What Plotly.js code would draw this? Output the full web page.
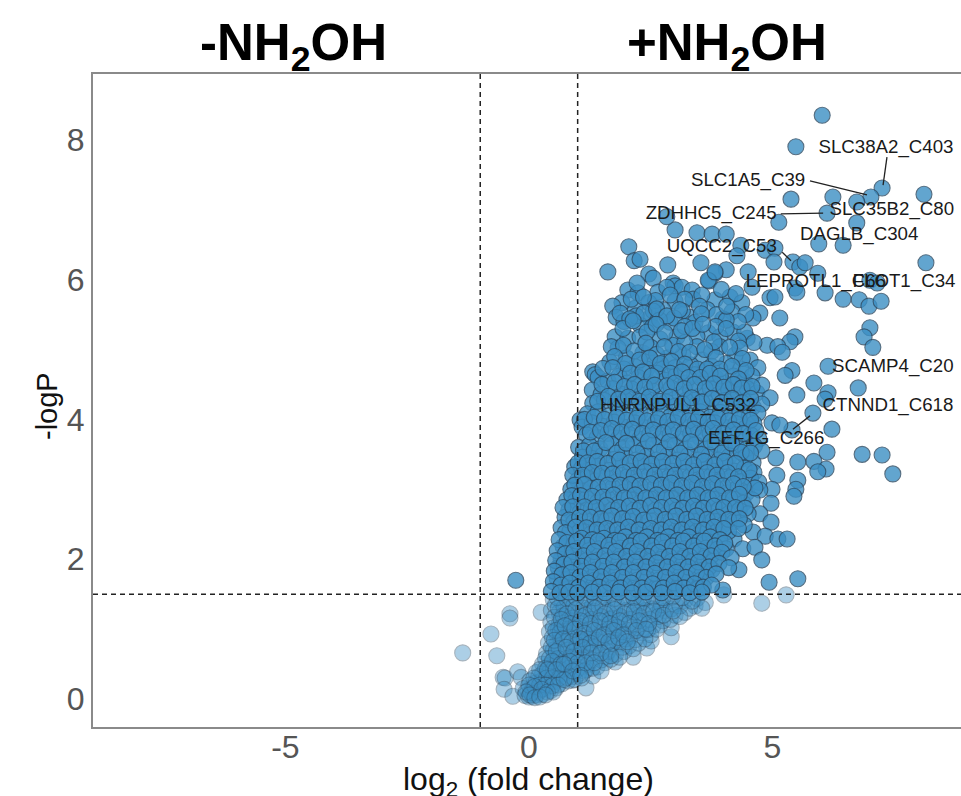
<!DOCTYPE html>
<html><head><meta charset="utf-8">
<script src="https://cdn.plot.ly/plotly-3.0.1.min.js"></script>
<style>html,body{margin:0;padding:0;background:#fff;overflow:hidden}</style>
</head><body><div id="chart" style="width:961px;height:796px"></div>
<script>
const xTicks=[-5,0,5];
const yTicks=[0,2,4,6,8];
const vCuts=[-1,1];
const hCut=1.5;
const sigOutliers=[[6.02,8.35],[5.48,7.9],[7.25,7.31],[7.02,7.18],[6.73,7.11],[6.24,7.18],[8.11,7.22],[5.38,7.15],[6.12,6.95],[6.73,6.81],[5.13,6.82],[3.0,6.71],[2.83,6.9],[3.45,6.67],[3.76,6.65],[4.05,6.65],[5.95,6.51],[6.45,6.49],[4.35,6.49],[4.27,6.34],[4.85,6.42],[5.05,6.45],[5.03,6.25],[8.15,6.24],[3.53,6.24],[2.85,6.21],[4.05,6.14],[3.82,6.09],[4.5,6.11],[5.42,6.25],[5.56,6.18],[5.67,6.24],[5.93,6.09],[3.7,5.98],[4.58,5.89],[4.95,5.74],[5.05,5.75],[5.46,5.88],[5.5,5.82],[6.08,5.81],[6.45,5.72],[6.78,5.71],[6.98,5.62],[7.23,5.69],[7.0,5.99],[7.15,5.95],[5.15,5.45],[7.0,5.31],[6.88,5.18],[7.06,5.03],[5.46,5.18],[5.36,5.11],[4.89,5.06],[5.11,5.04],[5.2,4.96],[5.4,4.7],[5.26,4.63],[6.14,4.76],[5.85,4.52],[6.76,4.45],[6.14,4.38],[6.08,4.29],[5.5,4.35],[5.83,4.09],[6.22,3.86],[5.4,3.85],[4.99,3.95],[5.15,3.92],[6.12,3.53],[6.84,3.5],[7.25,3.49],[7.47,3.22],[5.85,3.4],[6.1,3.29],[5.93,3.25],[5.52,3.39],[5.07,3.45],[5.09,3.2],[5.52,3.13],[5.48,3.0],[5.44,2.9],[4.99,3.0],[4.97,2.8],[4.74,2.65],[4.97,2.53],[4.6,2.39],[4.85,2.33],[5.11,2.29],[5.3,2.29],[4.21,2.29],[4.39,2.15],[4.64,2.17],[4.78,1.99],[4.31,1.85],[4.93,1.67],[5.52,1.72],[3.98,1.56],[-0.27,1.7]];
const sigTop=[[2.05,6.47],[2.16,6.27],[2.28,6.29],[1.62,6.11],[2.46,6.08],[2.55,6.02],[2.03,5.85],[2.24,5.81],[2.22,5.95],[2.65,5.82],[2.96,5.95],[3.0,5.91],[3.14,5.89],[2.83,5.89],[3.35,5.85],[3.68,5.99],[3.82,6.11],[4.13,5.75],[4.37,5.67],[3.82,5.71],[3.37,5.72],[3.0,5.69],[2.46,5.67],[2.18,5.59],[1.91,5.67],[1.72,5.62],[1.79,5.46],[2.75,5.57],[3.66,5.57],[4.17,5.54],[3.98,5.44],[4.74,5.52],[4.6,5.45],[4.48,5.16],[2.9,5.39],[3.31,5.46],[2.48,5.45],[2.28,5.35],[2.53,5.32],[3.41,5.39],[4.19,5.25],[3.68,5.24],[1.77,5.18],[2.03,5.16],[2.28,5.18],[2.69,5.15],[3.04,5.18],[3.45,5.19],[3.92,5.18],[4.43,5.25],[1.83,5.02],[2.34,4.95],[2.85,4.88],[3.16,4.92],[3.45,5.04],[3.92,5.04],[4.23,4.92],[4.54,4.85],[1.66,4.82],[3.55,4.85],[2.59,4.81],[2.18,4.75],[4.7,4.74],[1.31,4.68],[1.36,4.64],[2.0,4.88],[2.5,5.03],[2.95,5.06],[3.2,5.1],[3.75,4.97],[4.05,4.8],[4.35,4.72],[1.95,4.72],[2.42,4.72],[2.75,4.72],[3.0,4.74],[3.32,4.78],[3.75,4.76],[2.6,5.7],[2.9,5.78],[3.2,5.72],[3.55,5.78],[3.95,5.86],[4.25,5.8],[4.45,5.5],[4.3,5.4],[2.1,5.72],[2.35,5.75],[3.15,5.55],[3.85,5.5],[2.55,5.55],[1.95,5.4],[2.2,5.48],[4.62,5.1],[4.3,5.12],[4.05,5.42],[3.5,5.62],[2.98,5.45],[2.68,5.42]];
const sigUpper=[[1.42,4.6],[1.62,4.55],[1.85,4.62],[2.02,4.52],[2.25,4.6],[2.45,4.53],[2.63,4.66],[2.8,4.56],[3.02,4.63],[3.22,4.52],[3.4,4.64],[3.62,4.55],[3.83,4.6],[4.02,4.52],[4.2,4.62],[4.42,4.55],[4.58,4.62],[1.3,4.42],[1.48,4.36],[1.72,4.44],[1.9,4.36],[2.12,4.43],[2.3,4.35],[2.52,4.42],[2.72,4.34],[2.92,4.45],[3.1,4.36],[3.32,4.42],[3.5,4.33],[3.72,4.44],[3.9,4.36],[4.1,4.42],[4.3,4.35],[4.48,4.44],[4.68,4.38],[4.78,4.49],[4.95,4.31],[1.31,4.23],[1.55,4.27],[1.78,4.22],[1.98,4.28],[2.18,4.2],[2.4,4.27],[2.6,4.2],[2.82,4.25],[3.0,4.19],[3.22,4.27],[3.42,4.2],[3.62,4.26],[3.82,4.18],[4.02,4.27],[4.22,4.2],[4.42,4.26],[4.6,4.18],[4.78,4.22],[1.2,4.08],[1.42,4.11],[1.64,4.05],[1.85,4.12],[2.05,4.05],[2.28,4.1],[2.48,4.04],[2.7,4.1],[2.9,4.04],[3.12,4.11],[3.32,4.05],[3.52,4.11],[3.72,4.03],[3.93,4.1],[4.13,4.04],[4.33,4.11],[4.52,4.04],[4.7,4.09],[1.05,3.99],[1.09,3.89],[1.3,3.95],[1.52,3.9],[1.75,3.96],[1.95,3.89],[2.18,3.95],[2.38,3.88],[2.6,3.95],[2.8,3.88],[3.0,3.95],[3.22,3.88],[3.42,3.96],[3.62,3.88],[3.82,3.95],[4.05,3.88],[4.25,3.94],[4.45,3.88],[4.62,3.94],[1.18,3.78],[1.4,3.74],[1.62,3.8],[1.84,3.73],[2.05,3.79],[2.27,3.72],[2.48,3.79],[2.68,3.72],[2.9,3.79],[3.1,3.72],[3.32,3.8],[3.52,3.73],[3.72,3.8],[3.93,3.73],[4.15,3.79],[4.35,3.72],[4.55,3.78],[4.72,3.72],[1.02,3.6],[1.24,3.63],[1.46,3.58],[1.7,3.64],[1.92,3.58],[2.14,3.64],[2.35,3.57],[2.56,3.64],[2.78,3.57],[3.0,3.63],[3.2,3.57],[3.42,3.64],[3.62,3.57],[3.83,3.64],[4.03,3.57],[4.25,3.63],[4.45,3.57],[4.63,3.62],[4.78,3.55],[1.1,3.46],[0.94,3.32],[1.3,3.44],[1.52,3.49],[1.75,3.43],[1.97,3.49],[2.2,3.42],[2.42,3.48],[2.62,3.42],[2.85,3.49],[3.05,3.42],[3.28,3.49],[3.48,3.42],[3.7,3.49],[3.9,3.42],[4.12,3.48],[4.32,3.42],[4.6,3.38],[4.45,3.47]];
const sigMiddle=[[1.08,3.3],[1.22,3.27],[1.42,3.33],[1.65,3.27],[1.86,3.33],[2.08,3.26],[2.3,3.33],[2.52,3.26],[2.72,3.32],[2.95,3.26],[3.15,3.33],[3.38,3.26],[3.58,3.33],[3.8,3.26],[4.0,3.33],[4.22,3.26],[4.42,3.3],[4.62,3.24],[1.0,3.13],[1.18,3.16],[1.36,3.12],[1.58,3.18],[1.8,3.11],[2.02,3.18],[2.22,3.11],[2.44,3.18],[2.65,3.11],[2.87,3.17],[3.08,3.11],[3.3,3.18],[3.5,3.11],[3.72,3.18],[3.92,3.11],[4.14,3.17],[4.35,3.11],[4.55,3.16],[4.72,3.1],[0.86,3.0],[1.08,2.98],[1.28,3.02],[1.5,2.96],[1.72,3.03],[1.94,2.96],[2.15,3.02],[2.36,2.95],[2.58,3.02],[2.8,2.95],[3.0,3.02],[3.22,2.95],[3.42,3.02],[3.64,2.95],[3.84,3.02],[4.06,2.95],[4.27,3.01],[4.47,2.95],[4.74,2.99],[0.78,2.85],[0.96,2.84],[1.18,2.87],[1.4,2.81],[1.62,2.87],[1.84,2.8],[2.05,2.87],[2.27,2.8],[2.48,2.87],[2.7,2.8],[2.92,2.87],[3.13,2.8],[3.34,2.87],[3.55,2.8],[3.76,2.87],[3.98,2.8],[4.2,2.86],[4.4,2.8],[4.58,2.85],[0.82,2.7],[1.05,2.67],[1.28,2.72],[1.5,2.65],[1.72,2.71],[1.95,2.65],[2.16,2.71],[2.38,2.64],[2.6,2.71],[2.82,2.64],[3.03,2.71],[3.25,2.65],[3.46,2.71],[3.68,2.64],[3.9,2.71],[4.1,2.65],[4.32,2.7],[4.5,2.65],[0.74,2.6],[0.92,2.53],[1.16,2.56],[1.38,2.5],[1.6,2.56],[1.83,2.5],[2.05,2.56],[2.27,2.49],[2.48,2.56],[2.7,2.49],[2.92,2.55],[3.14,2.49],[3.35,2.56],[3.56,2.49],[3.78,2.56],[4.0,2.5],[4.22,2.54],[4.42,2.49],[0.66,2.45],[0.84,2.4],[1.05,2.41],[1.27,2.36],[1.5,2.41],[1.72,2.35],[1.94,2.41],[2.16,2.34],[2.38,2.41],[2.6,2.34],[2.82,2.4],[3.04,2.34],[3.25,2.41],[3.46,2.34],[3.68,2.41],[3.9,2.35],[4.1,2.4]];
const sigLower=[[0.62,2.28],[0.78,2.24],[0.98,2.26],[1.2,2.2],[1.42,2.26],[1.64,2.2],[1.86,2.26],[2.08,2.19],[2.3,2.26],[2.52,2.19],[2.74,2.25],[2.95,2.19],[3.17,2.26],[3.38,2.19],[3.6,2.26],[3.82,2.19],[4.02,2.23],[0.58,2.12],[0.75,2.08],[0.92,2.11],[1.12,2.05],[1.34,2.11],[1.56,2.05],[1.78,2.11],[2.0,2.04],[2.22,2.11],[2.44,2.04],[2.66,2.1],[2.88,2.04],[3.1,2.11],[3.3,2.04],[3.52,2.11],[3.74,2.05],[3.96,2.1],[4.15,2.02],[0.55,1.98],[0.72,1.93],[0.88,1.96],[1.08,1.9],[1.3,1.96],[1.52,1.9],[1.74,1.96],[1.96,1.89],[2.18,1.96],[2.4,1.89],[2.62,1.95],[2.84,1.89],[3.06,1.96],[3.27,1.89],[3.48,1.96],[3.7,1.89],[3.9,1.94],[4.1,1.88],[0.52,1.83],[0.68,1.78],[0.86,1.81],[1.05,1.75],[1.26,1.81],[1.48,1.75],[1.7,1.81],[1.92,1.74],[2.14,1.81],[2.36,1.74],[2.58,1.8],[2.8,1.74],[3.02,1.81],[3.22,1.74],[3.44,1.81],[3.64,1.74],[3.84,1.79],[0.5,1.68],[0.66,1.63],[0.84,1.66],[1.02,1.6],[1.22,1.66],[1.44,1.6],[1.66,1.66],[1.88,1.59],[2.1,1.66],[2.32,1.59],[2.54,1.65],[2.76,1.59],[2.98,1.66],[3.18,1.59],[3.4,1.65],[3.58,1.6],[3.75,1.63],[0.46,1.54],[0.64,1.52],[0.82,1.53],[1.0,1.52],[1.3,1.53],[1.56,1.52],[1.84,1.53],[2.12,1.52],[2.4,1.53],[2.72,1.52],[3.0,1.54],[3.3,1.52],[3.55,1.53]];
const sigFillHigh=[[1.87,5.52],[2.07,5.44],[2.36,5.52],[2.62,5.58],[2.83,5.48],[3.09,5.57],[3.2,5.33],[3.54,5.51],[3.84,5.33],[4.06,5.62],[1.93,5.3],[2.14,5.41],[2.42,5.25],[2.61,5.36],[2.79,5.24],[3.13,5.27],[3.36,5.3],[3.57,5.36],[3.8,5.11],[4.05,5.3],[4.33,5.02],[1.69,5.04],[1.94,5.06],[2.16,4.98],[2.4,5.09],[2.62,4.93],[2.78,5.04],[3.07,4.97],[3.3,4.96],[3.61,5.0],[3.84,4.88],[4.12,5.03],[4.38,4.87],[1.76,4.9],[1.98,4.8],[2.27,4.85],[2.48,4.88],[2.7,4.8],[2.93,4.83],[3.2,4.79],[3.46,4.72],[3.66,4.72],[3.92,4.72],[4.17,4.76],[4.46,4.7],[1.52,4.73],[1.72,4.74],[2.08,4.66],[2.34,4.68],[2.52,4.62],[2.9,4.66],[3.14,4.68],[3.28,4.6],[3.52,4.6],[3.72,4.66],[3.93,4.62],[4.3,4.58],[1.5,4.5],[1.76,4.53],[1.96,4.47],[2.17,4.5],[2.38,4.46],[2.58,4.49],[2.83,4.48],[3.0,4.52],[3.19,4.44],[3.4,4.5],[3.62,4.44],[3.8,4.51],[4.0,4.46],[4.2,4.5],[4.37,4.45],[4.58,4.47],[1.41,4.26],[1.63,4.33],[1.84,4.29],[2.04,4.32],[2.27,4.26],[2.47,4.32],[2.68,4.26],[2.9,4.32],[3.15,4.22],[3.34,4.31],[3.55,4.25],[3.76,4.3],[3.96,4.24],[4.17,4.3],[4.37,4.24],[4.55,4.3],[1.14,4.0],[1.34,4.03],[1.55,4.0],[1.8,4.03],[2.0,3.99],[2.22,4.02],[2.42,3.98],[2.66,4.01],[2.85,3.97],[3.06,4.03],[3.28,3.98],[3.48,4.02],[3.68,3.97],[3.88,4.02],[4.1,3.98],[4.32,4.0],[4.55,3.99],[1.26,3.82],[1.47,3.84],[1.7,3.87],[1.9,3.82],[2.12,3.86],[2.33,3.8],[2.55,3.85],[2.76,3.81],[2.96,3.85],[3.17,3.8],[3.38,3.86],[3.58,3.8],[3.78,3.87],[3.99,3.8],[4.2,3.85],[4.4,3.8],[4.66,3.84]];
const sigFillLow=[[1.12,3.55],[1.34,3.55],[1.58,3.67],[1.8,3.52],[2.0,3.66],[2.22,3.52],[2.45,3.69],[2.66,3.53],[2.88,3.68],[3.1,3.52],[3.32,3.68],[3.54,3.5],[3.74,3.68],[3.96,3.52],[4.16,3.66],[4.36,3.53],[4.55,3.52],[1.01,3.38],[1.2,3.38],[1.4,3.4],[1.62,3.37],[1.86,3.42],[2.08,3.38],[2.3,3.4],[2.52,3.36],[2.74,3.4],[2.96,3.37],[3.18,3.4],[3.38,3.35],[3.6,3.4],[3.82,3.35],[4.02,3.4],[4.24,3.37],[4.52,3.28],[0.9,3.2],[1.1,3.2],[1.3,3.24],[1.5,3.23],[1.72,3.22],[1.94,3.24],[2.16,3.2],[2.38,3.25],[2.58,3.2],[2.8,3.24],[3.0,3.2],[3.22,3.24],[3.44,3.2],[3.66,3.24],[3.86,3.2],[4.08,3.24],[4.3,3.18],[4.64,3.02],[0.94,3.06],[1.14,3.07],[1.42,3.03],[1.62,3.06],[1.87,3.06],[2.08,3.07],[2.28,3.05],[2.5,3.08],[2.72,3.06],[2.92,3.09],[3.14,3.05],[3.35,3.09],[3.56,3.04],[3.77,3.08],[3.98,3.05],[4.2,3.08],[4.4,3.04],[0.88,2.91],[1.06,2.91],[1.3,2.9],[1.52,2.89],[1.74,2.92],[1.96,2.88],[2.18,2.92],[2.4,2.88],[2.62,2.92],[2.82,2.88],[3.04,2.92],[3.26,2.88],[3.46,2.92],[3.68,2.88],[3.88,2.92],[4.12,2.88],[4.32,2.93],[0.7,2.74],[0.9,2.75],[1.14,2.75],[1.38,2.74],[1.6,2.77],[1.84,2.74],[2.06,2.76],[2.28,2.73],[2.5,2.77],[2.72,2.74],[2.94,2.76],[3.16,2.73],[3.38,2.76],[3.58,2.73],[3.8,2.76],[4.0,2.74],[4.24,2.74],[4.44,2.73],[0.82,2.56],[1.04,2.6],[1.26,2.6],[1.48,2.58],[1.7,2.62],[1.92,2.58],[2.14,2.61],[2.36,2.56],[2.58,2.62],[2.8,2.57],[3.02,2.62],[3.24,2.57],[3.44,2.62],[3.66,2.57],[3.88,2.6],[4.1,2.57],[4.32,2.58],[0.75,2.38],[0.96,2.46],[1.18,2.45],[1.4,2.42],[1.6,2.44],[1.82,2.42],[2.04,2.46],[2.26,2.42],[2.5,2.44],[2.72,2.42],[2.92,2.46],[3.14,2.42],[3.36,2.46],[3.58,2.42],[3.8,2.46],[4.0,2.44],[4.3,2.44],[0.7,2.18],[0.9,2.2],[1.08,2.3],[1.3,2.28],[1.54,2.3],[1.76,2.27],[1.98,2.32],[2.2,2.27],[2.42,2.32],[2.64,2.27],[2.86,2.32],[3.06,2.27],[3.28,2.32],[3.5,2.26],[3.72,2.32],[3.92,2.28],[0.66,2.0],[0.84,2.02],[1.02,2.16],[1.22,2.12],[1.44,2.15],[1.66,2.13],[1.88,2.16],[2.1,2.12],[2.34,2.15],[2.56,2.12],[2.78,2.16],[2.98,2.12],[3.2,2.15],[3.42,2.12],[3.64,2.16],[3.86,2.14],[4.05,2.15],[0.6,1.88],[0.78,1.86],[0.98,1.99],[1.18,1.98],[1.42,1.99],[1.62,1.98],[1.85,2.0],[2.06,1.97],[2.28,2.0],[2.5,1.97],[2.72,2.0],[2.94,1.97],[3.16,2.01],[3.38,1.98],[3.6,2.01],[3.8,1.98],[0.58,1.72],[0.76,1.72],[0.96,1.85],[1.16,1.84],[1.38,1.85],[1.6,1.86],[1.82,1.85],[2.04,1.86],[2.26,1.84],[2.48,1.87],[2.7,1.84],[2.92,1.87],[3.12,1.84],[3.34,1.87],[3.56,1.84],[3.76,1.85],[0.92,1.7],[1.12,1.7],[1.34,1.7],[1.56,1.71],[1.78,1.7],[2.0,1.72],[2.22,1.7],[2.44,1.72],[2.66,1.7],[2.88,1.72],[3.1,1.7],[3.3,1.72],[3.52,1.7],[0.74,1.58],[0.92,1.58],[1.12,1.57],[1.35,1.58],[1.55,1.58],[1.76,1.58],[1.98,1.6],[2.22,1.57],[2.44,1.59],[2.65,1.58],[2.88,1.59],[3.08,1.58],[3.28,1.6],[3.48,1.58]];
const nsOutliers=[[-1.36,0.66],[-0.78,0.93],[-0.66,0.62],[-0.39,1.22],[-0.39,1.16],[0.25,1.24],[-0.53,0.31],[-0.49,0.3],[-0.23,0.39],[-0.51,0.14],[-0.33,0.04],[-0.16,0.31],[1.17,0.16],[1.31,0.33],[0.9,0.27],[1.77,0.53],[2.14,0.6],[2.42,0.73],[2.51,0.83],[2.92,0.89],[2.92,1.02],[2.69,1.06],[3.41,1.33],[4.0,1.49],[4.78,1.37],[5.28,1.49]];
const nsCore=[[0.5,1.42],[0.68,1.38],[0.85,1.43],[1.05,1.37],[1.25,1.43],[1.42,1.37],[1.62,1.43],[1.8,1.36],[2.02,1.43],[2.2,1.36],[2.4,1.43],[2.6,1.36],[2.8,1.42],[3.0,1.36],[3.2,1.41],[3.45,1.44],[3.62,1.38],[0.46,1.27],[0.62,1.24],[0.8,1.28],[1.0,1.22],[1.2,1.27],[1.4,1.21],[1.6,1.27],[1.8,1.21],[2.0,1.27],[2.2,1.2],[2.4,1.27],[2.6,1.21],[2.8,1.26],[3.0,1.2],[3.2,1.24],[0.45,1.1],[0.62,1.07],[0.78,1.12],[0.96,1.06],[1.15,1.11],[1.35,1.05],[1.55,1.11],[1.75,1.05],[1.95,1.11],[2.15,1.05],[2.35,1.1],[2.55,1.05],[2.75,1.12],[0.42,0.96],[0.58,0.92],[0.75,0.97],[0.92,0.91],[1.1,0.96],[1.3,0.9],[1.5,0.96],[1.7,0.9],[1.9,0.96],[2.1,0.9],[2.3,0.95],[2.5,0.92],[0.4,0.8],[0.56,0.77],[0.72,0.82],[0.9,0.76],[1.08,0.81],[1.26,0.75],[1.46,0.81],[1.66,0.75],[1.86,0.8],[2.05,0.76],[2.25,0.8],[0.36,0.65],[0.52,0.62],[0.68,0.66],[0.85,0.6],[1.02,0.66],[1.2,0.6],[1.4,0.65],[1.58,0.6],[1.78,0.64],[1.95,0.68],[0.28,0.5],[0.42,0.48],[0.58,0.52],[0.74,0.46],[0.9,0.51],[1.06,0.45],[1.22,0.5],[1.4,0.46],[1.56,0.52],[0.15,0.38],[0.28,0.36],[0.42,0.38],[0.56,0.33],[0.72,0.37],[0.88,0.32],[1.02,0.37],[1.18,0.42],[0.02,0.26],[0.14,0.23],[0.26,0.26],[0.4,0.22],[0.54,0.25],[0.68,0.22],[0.8,0.26],[-0.12,0.15],[-0.02,0.12],[0.08,0.15],[0.2,0.11],[0.32,0.15],[0.44,0.12],[0.56,0.16],[-0.08,0.05],[0.0,0.03],[0.08,0.04],[0.16,0.06],[0.28,0.07],[0.04,0.09],[0.6,1.0],[0.85,1.18],[1.3,1.33],[1.7,1.16],[2.25,1.32],[2.7,1.3],[1.0,0.72],[0.65,0.88],[1.52,0.72],[1.25,0.88],[1.85,1.02],[0.5,0.7],[0.34,0.58],[0.2,0.32],[0.62,0.42]];
const nsFillA=[[0.54,1.34],[0.72,1.31],[0.92,1.34],[1.12,1.3],[1.33,1.26],[1.52,1.33],[1.72,1.3],[1.92,1.35],[2.12,1.29],[2.32,1.38],[2.52,1.29],[2.72,1.35],[2.92,1.29],[3.1,1.33],[3.3,1.3],[3.55,1.3],[0.52,1.17],[0.7,1.19],[0.9,1.16],[1.08,1.18],[1.28,1.14],[1.48,1.18],[1.66,1.14],[1.88,1.18],[2.08,1.14],[2.28,1.18],[2.48,1.14],[2.66,1.18],[2.9,1.14],[3.1,1.18],[0.5,1.02],[0.68,1.03],[0.86,1.02],[1.04,1.04],[1.24,1.0],[1.44,1.03],[1.64,1.0],[1.82,1.03],[2.04,0.98],[2.24,1.02],[2.44,0.99],[2.62,1.0],[0.48,0.88],[0.64,0.95],[0.82,0.88],[1.0,0.88],[1.18,0.86],[1.38,0.84],[1.58,0.88],[1.78,0.84],[1.98,0.86],[2.18,0.85],[2.38,0.86],[0.46,0.74],[0.62,0.72],[0.8,0.7],[0.98,0.78],[1.16,0.7],[1.34,0.74],[1.62,0.68],[1.72,0.8],[1.92,0.74],[2.14,0.72],[0.42,0.58],[0.6,0.58],[0.76,0.58],[0.94,0.62],[1.1,0.56],[1.3,0.56],[1.48,0.56],[1.68,0.57],[1.86,0.6],[0.34,0.44],[0.5,0.43],[0.66,0.42],[0.82,0.44],[0.98,0.42],[1.14,0.4],[1.3,0.44],[1.48,0.4],[0.22,0.42],[0.36,0.3],[0.48,0.3],[0.62,0.3],[0.78,0.31],[0.94,0.28],[1.08,0.3],[0.1,0.3],[0.22,0.2],[0.34,0.2],[0.48,0.19],[0.6,0.2],[0.72,0.28],[0.0,0.2],[0.12,0.18],[0.26,0.14],[0.38,0.1],[0.5,0.1],[-0.06,0.1],[0.02,0.06],[0.12,0.02],[0.22,0.03],[0.34,0.06]];
const nsFillB=[[0.58,1.45],[0.77,1.44],[0.97,1.45],[1.17,1.44],[1.35,1.45],[1.55,1.46],[1.75,1.44],[1.95,1.46],[2.15,1.45],[2.35,1.45],[2.55,1.46],[2.75,1.45],[2.95,1.46],[3.15,1.45],[3.35,1.4],[0.6,1.3],[0.78,1.22],[0.96,1.28],[1.16,1.2],[1.36,1.3],[1.56,1.22],[1.76,1.28],[1.96,1.22],[2.16,1.25],[2.36,1.22],[2.56,1.26],[2.76,1.2],[2.96,1.26],[0.66,1.14],[0.86,1.08],[1.06,1.12],[1.26,1.08],[1.46,1.12],[1.66,1.08],[1.86,1.12],[2.06,1.08],[2.26,1.12],[2.46,1.08],[0.55,0.98],[0.74,1.05],[0.94,1.0],[1.14,0.94],[1.34,0.98],[1.54,0.92],[1.74,0.98],[1.94,0.92],[2.2,0.98],[2.4,1.0],[0.52,0.84],[0.7,0.86],[0.88,0.82],[1.06,0.86],[1.26,0.8],[1.44,0.88],[1.64,0.82],[1.84,0.88],[2.02,0.82],[0.56,0.68],[0.76,0.74],[0.92,0.68],[1.1,0.74],[1.28,0.66],[1.48,0.66],[1.68,0.62],[0.48,0.54],[0.66,0.5],[0.84,0.54],[1.0,0.52],[1.16,0.52],[1.34,0.52],[0.38,0.42],[0.56,0.42],[0.72,0.5],[0.9,0.4],[1.06,0.34]];
const sigPoints=sigOutliers.concat(sigTop,sigUpper,sigFillHigh,sigMiddle,sigFillLow,sigLower);
const nsPoints=nsOutliers.concat(nsCore,nsFillA,nsFillB);
const labelNames=["SLC38A2_C403","SLC1A5_C39","ZDHHC5_C245","SLC35B2_C80","DAGLB_C304","UQCC2_C53","LEPROTL1_C66","FLOT1_C34","SCAMP4_C20","CTNND1_C618","HNRNPUL1_C532","EEF1G_C266"];
const labelX=[7.33,4.5,3.74,7.45,6.78,3.96,5.89,7.7,7.47,7.37,3.06,4.87];
const labelY=[7.87,7.4,6.93,6.99,6.63,6.46,5.96,5.96,4.74,4.18,4.18,3.71];
const leaderX=[7.35,7.27,null,5.77,6.94,null,5.17,6.04,null,5.2,5.38,null,5.77,5.42];
const leaderY=[7.75,7.35,null,7.41,7.21,null,6.94,6.95,null,6.39,6.27,null,4.05,3.86];
const F='"Liberation Sans", Arial, sans-serif';
const dot=(pts,op)=>({type:'scatter',mode:'markers',x:pts.map(p=>p[0]),y:pts.map(p=>p[1]),hoverinfo:'skip',
  marker:{size:16,color:'#3c8fc4',opacity:op,line:{color:'#2c4a62',width:1.1}}});
const data=[dot(nsPoints,0.42),dot(sigPoints,0.8),
 {type:'scatter',mode:'lines',x:leaderX,y:leaderY,line:{color:'#222',width:1.3},hoverinfo:'skip'},
 {type:'scatter',mode:'text',x:labelX,y:labelY,text:labelNames,textposition:'middle center',textfont:{family:F,size:18.7,color:'#1a1a1a'},hoverinfo:'skip'}];
const dash={color:'#222',width:1.5,dash:'5px,4px'};
const layout={width:961,height:796,showlegend:false,paper_bgcolor:'#fff',plot_bgcolor:'#fff',
 margin:{l:93,r:0,t:74,b:69},
 font:{family:F},
 xaxis:{range:[-8.95,8.87],tickvals:xTicks,ticktext:xTicks.map(String),zeroline:false,showgrid:false,showline:true,mirror:true,linecolor:'#8a8a8a',linewidth:2,ticks:'',ticklabelstandoff:-9,tickfont:{size:32,color:'#555'},automargin:false},
 yaxis:{range:[-0.4,8.94],tickvals:yTicks,ticktext:yTicks.map(String),zeroline:false,showgrid:false,showline:true,linecolor:'#8a8a8a',linewidth:2,ticks:'',tickfont:{size:32,color:'#555'},automargin:false},
 shapes:[...vCuts.map(v=>({type:'line',xref:'x',yref:'paper',x0:v,x1:v,y0:0,y1:1,line:dash,layer:'above'})),
  {type:'line',xref:'paper',yref:'y',x0:0,x1:1,y0:hCut,y1:hCut,line:dash,layer:'above'}],
 annotations:[
  {text:'<b>-NH<sub>2</sub>OH</b>',xref:'paper',yref:'paper',x:(293-93)/868,y:(796-69-46)/653,showarrow:false,xanchor:'center',yanchor:'middle',font:{family:F,size:51,color:'#000'}},
  {text:'<b>+NH<sub>2</sub>OH</b>',xref:'paper',yref:'paper',x:(727-93)/868,y:(796-69-46)/653,showarrow:false,xanchor:'center',yanchor:'middle',font:{family:F,size:51,color:'#000'}},
  {text:'-logP',xref:'paper',yref:'paper',x:(47-93)/868,y:(727-406)/653,showarrow:false,xanchor:'center',yanchor:'middle',textangle:-90,font:{family:F,size:29,color:'#111'}},
  {text:'log<sub>2</sub> (fold change)',xref:'paper',yref:'paper',x:(528.5-93)/868,y:(727-781)/653,showarrow:false,xanchor:'center',yanchor:'middle',font:{family:F,size:32,color:'#111'}}]};
Plotly.newPlot('chart',data,layout,{displayModeBar:false,responsive:false});
</script></body></html>
